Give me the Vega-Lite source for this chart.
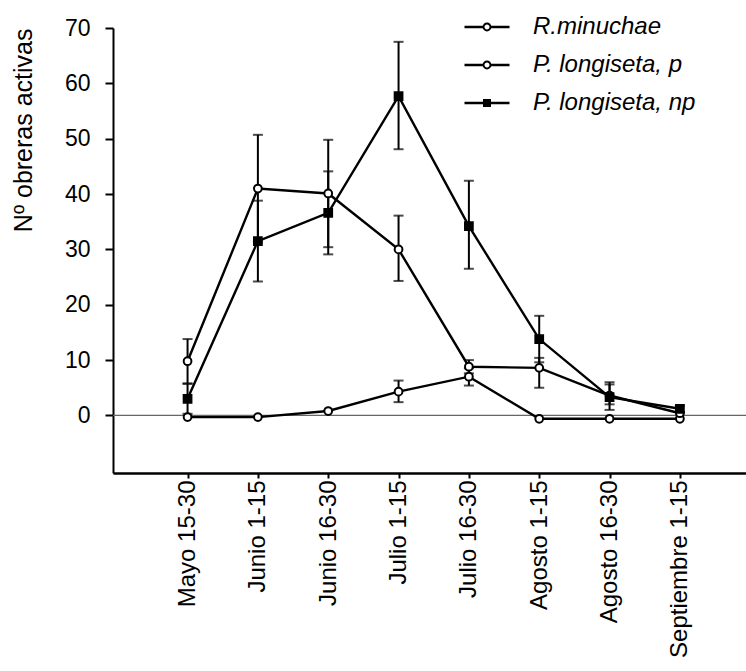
{
  "$schema": "https://vega.github.io/schema/vega-lite/v6.json",
  "width": 633,
  "height": 445,
  "autosize": {"type": "none"},
  "padding": {"left": 113, "top": 28, "right": 0, "bottom": 198},
  "background": "white",
  "config": {
    "view": {"stroke": null},
    "font": "Liberation Sans",
    "axis": {"grid": false, "domainColor": "black", "tickColor": "black", "labelColor": "black", "titleColor": "black", "labelFont": "Liberation Sans", "titleFont": "Liberation Sans"}
  },
  "datasets": {
    "pts": [
      {"period": "Mayo 15-30", "series": "R.minuchae", "value": -0.3},
      {"period": "Junio 1-15", "series": "R.minuchae", "value": -0.3},
      {"period": "Junio 16-30", "series": "R.minuchae", "value": 0.8},
      {"period": "Julio 1-15", "series": "R.minuchae", "value": 4.3},
      {"period": "Julio 16-30", "series": "R.minuchae", "value": 7.0},
      {"period": "Agosto 1-15", "series": "R.minuchae", "value": -0.6},
      {"period": "Agosto 16-30", "series": "R.minuchae", "value": -0.6},
      {"period": "Septiembre 1-15", "series": "R.minuchae", "value": -0.6},
      {"period": "Mayo 15-30", "series": "P. longiseta, p", "value": 9.8},
      {"period": "Junio 1-15", "series": "P. longiseta, p", "value": 41.0},
      {"period": "Junio 16-30", "series": "P. longiseta, p", "value": 40.1},
      {"period": "Julio 1-15", "series": "P. longiseta, p", "value": 30.0},
      {"period": "Julio 16-30", "series": "P. longiseta, p", "value": 8.8},
      {"period": "Agosto 1-15", "series": "P. longiseta, p", "value": 8.6},
      {"period": "Agosto 16-30", "series": "P. longiseta, p", "value": 3.6},
      {"period": "Septiembre 1-15", "series": "P. longiseta, p", "value": 0.4},
      {"period": "Mayo 15-30", "series": "P. longiseta, np", "value": 3.0},
      {"period": "Junio 1-15", "series": "P. longiseta, np", "value": 31.5},
      {"period": "Junio 16-30", "series": "P. longiseta, np", "value": 36.6},
      {"period": "Julio 1-15", "series": "P. longiseta, np", "value": 57.7},
      {"period": "Julio 16-30", "series": "P. longiseta, np", "value": 34.2},
      {"period": "Agosto 1-15", "series": "P. longiseta, np", "value": 13.8},
      {"period": "Agosto 16-30", "series": "P. longiseta, np", "value": 3.3},
      {"period": "Septiembre 1-15", "series": "P. longiseta, np", "value": 1.2}
    ],
    "err": [
      {"period": "Julio 1-15", "series": "R.minuchae", "lo": 2.4, "hi": 6.3},
      {"period": "Julio 16-30", "series": "R.minuchae", "lo": 5.4, "hi": 8.5},
      {"period": "Mayo 15-30", "series": "P. longiseta, p", "lo": 5.8, "hi": 13.8},
      {"period": "Junio 1-15", "series": "P. longiseta, p", "lo": 31.3, "hi": 50.7},
      {"period": "Junio 16-30", "series": "P. longiseta, p", "lo": 30.4, "hi": 49.8},
      {"period": "Julio 1-15", "series": "P. longiseta, p", "lo": 24.3, "hi": 36.1},
      {"period": "Julio 16-30", "series": "P. longiseta, p", "lo": 7.6, "hi": 10.0},
      {"period": "Agosto 1-15", "series": "P. longiseta, p", "lo": 5.0, "hi": 10.4},
      {"period": "Agosto 16-30", "series": "P. longiseta, p", "lo": 2.0, "hi": 5.6},
      {"period": "Mayo 15-30", "series": "P. longiseta, np", "lo": 0.3, "hi": 5.7},
      {"period": "Junio 1-15", "series": "P. longiseta, np", "lo": 24.2, "hi": 38.8},
      {"period": "Junio 16-30", "series": "P. longiseta, np", "lo": 29.1, "hi": 44.1},
      {"period": "Julio 1-15", "series": "P. longiseta, np", "lo": 48.1, "hi": 67.5},
      {"period": "Julio 16-30", "series": "P. longiseta, np", "lo": 26.5, "hi": 42.4},
      {"period": "Agosto 1-15", "series": "P. longiseta, np", "lo": 9.6, "hi": 18.0},
      {"period": "Agosto 16-30", "series": "P. longiseta, np", "lo": 1.0, "hi": 6.0},
      {"period": "Septiembre 1-15", "series": "P. longiseta, np", "lo": 0.6, "hi": 1.8}
    ],
    "zero": [{"y": 0}]
  },
  "encoding": {
    "x": {
      "field": "period", "type": "ordinal",
      "scale": {"type": "point", "padding": 1.05, "align": 0.53, "domain": ["Mayo 15-30", "Junio 1-15", "Junio 16-30", "Julio 1-15", "Julio 16-30", "Agosto 1-15", "Agosto 16-30", "Septiembre 1-15"]},
      "axis": {"title": null, "labelAngle": 270, "labelAlign": "right", "labelBaseline": "middle", "labelFontSize": 24, "labelPadding": 2, "tickSize": 5, "tickWidth": 2, "domainWidth": 2.5}
    }
  },
  "layer": [
    {
      "data": {"name": "zero"},
      "mark": {"type": "rule", "color": "#666666", "strokeWidth": 1.2},
      "encoding": {"x": null, "y": {"field": "y", "type": "quantitative", "scale": {"domain": [-10.4, 70], "nice": false, "zero": false}}}
    },
    {
      "data": {"name": "err"},
      "mark": {"type": "errorbar", "color": "black", "thickness": 2, "ticks": {"size": 10, "thickness": 2, "color": "black"}},
      "encoding": {
        "y": {"field": "lo", "type": "quantitative", "scale": {"domain": [-10.4, 70], "nice": false, "zero": false},
          "axis": {"values": [0, 10, 20, 30, 40, 50, 60, 70], "title": "Nº obreras activas", "titleFontSize": 25, "titleFontWeight": "normal", "titleAnchor": "end", "titlePadding": 28, "labelFontSize": 23, "labelPadding": 15, "tickSize": 8, "tickWidth": 2, "domainWidth": 2}},
        "y2": {"field": "hi"},
        "detail": {"field": "series"}
      }
    },
    {
      "data": {"name": "pts"},
      "mark": {"type": "line", "color": "black", "strokeWidth": 2.4},
      "encoding": {
        "y": {"field": "value", "type": "quantitative"},
        "detail": {"field": "series"}
      }
    },
    {
      "data": {"name": "pts"},
      "mark": {"type": "point", "stroke": "black", "strokeWidth": 2, "opacity": 1, "size": 60},
      "encoding": {
        "y": {"field": "value", "type": "quantitative"},
        "shape": {"field": "series", "type": "nominal", "legend": null, "scale": {"domain": ["R.minuchae", "P. longiseta, p", "P. longiseta, np"], "range": ["circle", "circle", "square"]}},
        "fill": {"field": "series", "type": "nominal", "legend": null, "scale": {"domain": ["R.minuchae", "P. longiseta, p", "P. longiseta, np"], "range": ["white", "white", "black"]}},
        "size": {"field": "series", "type": "nominal", "legend": null, "scale": {"domain": ["R.minuchae", "P. longiseta, p", "P. longiseta, np"], "range": [60, 60, 85]}}
      }
    },
    {
      "data": {"name": "pts"},
      "transform": [{"filter": "false"}],
      "mark": {"type": "point", "filled": true, "color": "black", "opacity": 1, "strokeWidth": 0, "size": 400},
      "encoding": {
        "x": null,
        "shape": {
          "field": "series", "type": "nominal",
          "scale": {"domain": ["R.minuchae", "P. longiseta, p", "P. longiseta, np"],
            "range": [
              "M-2.25,-0.13 L-0.38,-0.13 L-0.38,0.13 L-2.25,0.13 Z M0.38,-0.13 L2.25,-0.13 L2.25,0.13 L0.38,0.13 Z M-0.44,0 A0.44,0.44 0 1,1 0.44,0 A0.44,0.44 0 1,1 -0.44,0 Z M-0.25,0 A0.25,0.25 0 1,0 0.25,0 A0.25,0.25 0 1,0 -0.25,0 Z",
              "M-2.25,-0.13 L-0.38,-0.13 L-0.38,0.13 L-2.25,0.13 Z M0.38,-0.13 L2.25,-0.13 L2.25,0.13 L0.38,0.13 Z M-0.44,0 A0.44,0.44 0 1,1 0.44,0 A0.44,0.44 0 1,1 -0.44,0 Z M-0.25,0 A0.25,0.25 0 1,0 0.25,0 A0.25,0.25 0 1,0 -0.25,0 Z",
              "M-2.25,-0.13 L2.25,-0.13 L2.25,0.13 L-2.25,0.13 Z M-0.4,-0.4 L0.4,-0.4 L0.4,0.4 L-0.4,0.4 Z"
            ]},
          "legend": {"title": null, "orient": "none", "legendX": 362, "legendY": -13, "padding": 0, "symbolSize": 400, "labelFont": "Liberation Sans", "labelFontSize": 24, "labelFontStyle": "italic", "labelColor": "black", "labelOffset": 34, "labelLimit": 0, "rowPadding": 14, "symbolFillColor": "black", "symbolStrokeWidth": 0, "symbolOpacity": 1}
        }
      }
    }
  ],
  "resolve": {"scale": {"shape": "independent", "fill": "independent", "size": "independent"}}
}
